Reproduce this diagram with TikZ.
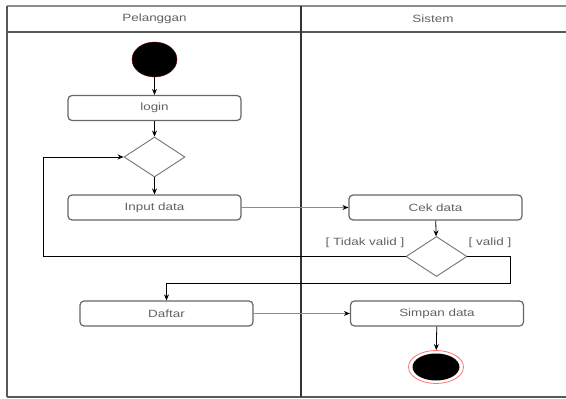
\documentclass[tikz,border=0pt]{standalone}
\usepackage{fontspec}
\setmainfont{Liberation Sans}[FakeStretch=1.28]
\usetikzlibrary{shapes.geometric,arrows.meta}

\begin{document}
\begin{tikzpicture}[x=1pt,y=-1pt,
  lbl/.style={font=\fontsize{10.5}{12}\selectfont, text=black!62},
  act/.style={lbl, draw=black!60, line width=1.2pt, rounded corners=4pt,
    minimum width=173pt, minimum height=25pt, inner sep=0pt},
  choice/.style={draw=black!55, line width=0.9pt, diamond, inner sep=0pt,
    minimum width=61pt, minimum height=40pt},
  flow/.style={draw=black, line width=0.8pt, -{Stealth[length=6pt,width=5pt]}},
  msg/.style={draw=black!45, line width=1.1pt, -{Stealth[length=6pt,width=5pt,fill=black,color=black]}},
  lane/.style={draw=black!65, line width=1.3pt}
]
\useasboundingbox (0,0) rectangle (566,399);

% swimlane frame
\draw[lane, draw=black!45] (7,6) -- (566,6);
\draw[lane] (7,32) -- (566,32);
\draw[lane] (7,397) -- (566,397);
\draw[lane] (7,6) -- (7,397);
\draw[lane, draw=black!80] (301,6) -- (301,397);
\node[lbl] (hp) at (154.5,19) {Pelanggan};
\node[lbl] (hs) at (433,19) {Sistem};

% activities
\node[draw=red!40!black, fill=black, ellipse, minimum width=45pt, minimum height=35pt, inner sep=0pt] (start) at (154.5,59.5) {};
\node[act] (login) at (154.5,108) {login};
\node[choice] (d1) at (154.5,157) {};
\node[act] (input) at (154.5,207.5) {Input data};
\node[act] (cek) at (435.5,207.5) {Cek data};
\node[choice] (d2) at (436.5,256.5) {};
\node[act] (daftar) at (166.5,313.5) {Daftar};
\node[act] (simpan) at (437,313.5) {Simpan data};
\node[draw=red!55, line width=0.8pt, fill=white, ellipse, minimum width=55pt, minimum height=33pt, inner sep=0pt] (endo) at (436,367) {};
\node[fill=black, ellipse, minimum width=47pt, minimum height=27pt, inner sep=0pt] (endi) at (436,367) {};

% guards
\node[lbl] (gt) at (365,243) {[ Tidak valid ]};
\node[lbl] (gv) at (490,243) {[ valid ]};

% bend points of the loops
\coordinate (lx) at (43,256.5);
\coordinate (rc) at (510,283);

% transitions
\draw[flow] (start) -- (login);
\draw[flow] (login) -- (d1);
\draw[flow] (d1) -- (input);
\draw[msg] (input) -- (cek);
\draw[flow] (cek) -- (d2);
\draw[flow] (d2.west) -- (lx) |- (d1.west);
\draw[flow] (d2.east) -| (rc) -| (daftar.north);
\draw[msg] (daftar) -- (simpan);
\draw[flow] (simpan) -- (endo);
\end{tikzpicture}
\end{document}
